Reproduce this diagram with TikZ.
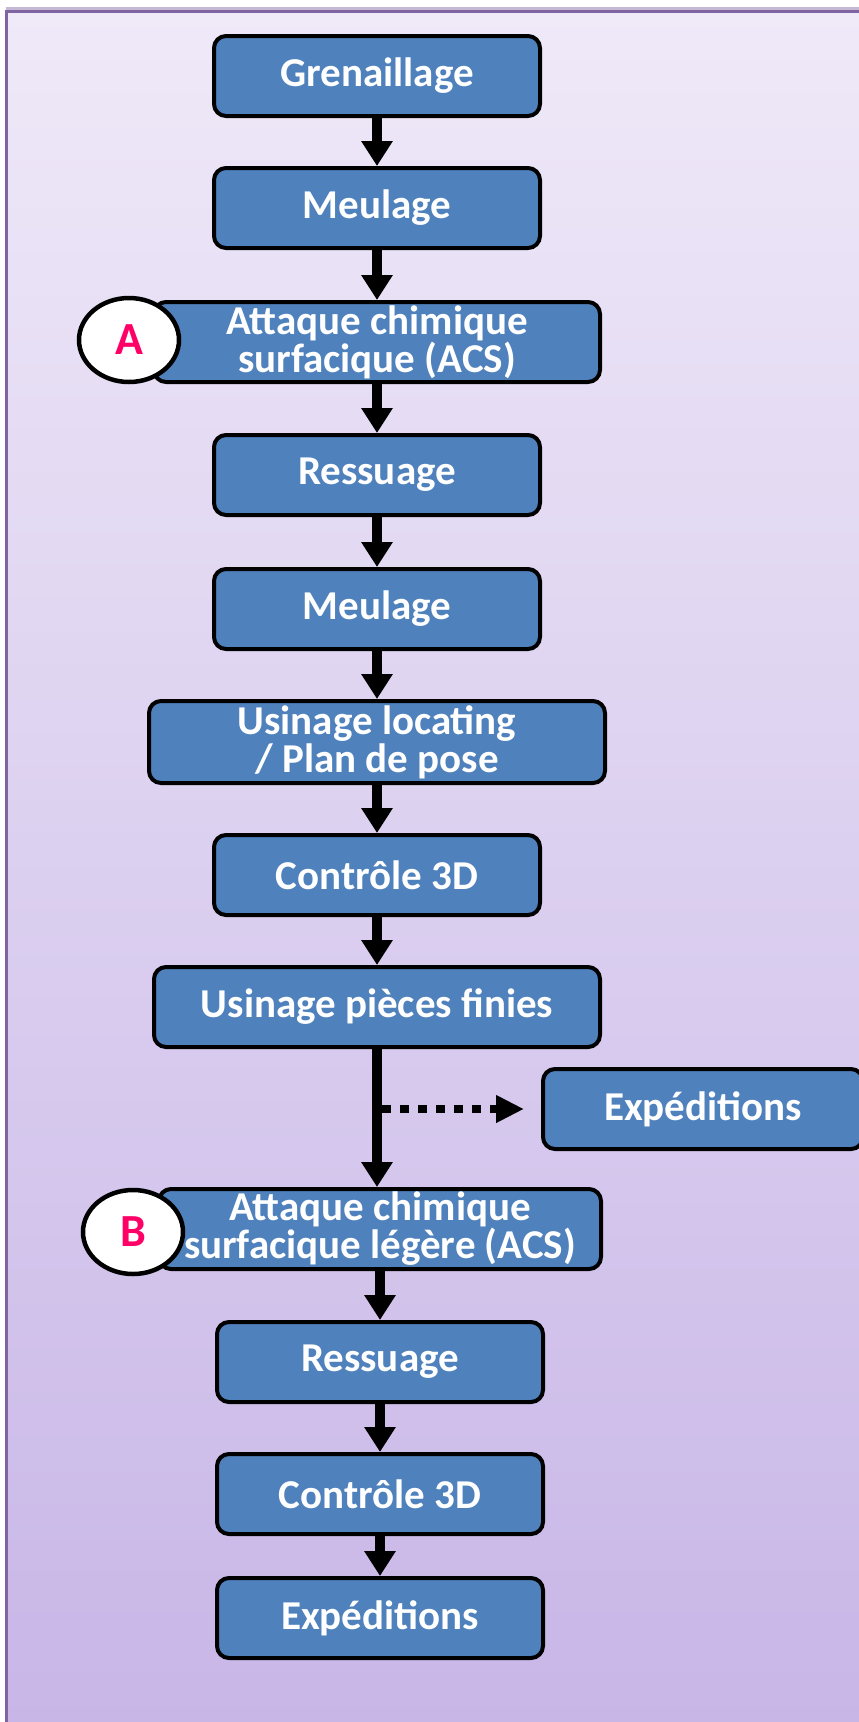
\documentclass[tikz,border=0pt]{standalone}
\usepackage{fontspec}
\setmainfont{Carlito}
\usetikzlibrary{arrows.meta,shapes.geometric}
\definecolor{boxblue}{RGB}{79,129,189}
\definecolor{bgtop}{RGB}{239,233,248}
\definecolor{bgbot}{RGB}{200,182,231}
\definecolor{framepurple}{RGB}{128,100,162}
\definecolor{markpink}{RGB}{255,0,102}

\tikzset{
  stepbox/.style={draw=black, line width=4pt, fill=boxblue, rounded corners=12pt,
    text=white, font=\fontsize{41}{38}\selectfont\bfseries, align=center,
    minimum width=326pt, minimum height=80pt, inner sep=0pt},
  widebox/.style={stepbox, minimum width=446pt},
  marker/.style={ellipse, draw=black, line width=4.5pt, fill=white, text=markpink,
    font=\fontsize{46}{46}\selectfont\bfseries, minimum width=100pt, minimum height=84pt, inner sep=0pt},
  flow/.style={line width=10pt, -{Triangle[width=30pt,length=25pt]}},
  dotflow/.style={line width=8pt, dash pattern=on 9pt off 9pt, -{Triangle[width=26pt,length=28pt]}}
}

\begin{document}
\begin{tikzpicture}[x=1pt,y=-1pt]
  \clip (0,0) rectangle (859,1722);
  % background and frame
  \fill[white] (0,0) rectangle (859,1722);
  \shade[top color=bgtop, bottom color=bgbot] (6,10) rectangle (859,1722);
  \fill[framepurple!45!white] (6,7) rectangle (859,10);
  \draw[framepurple, line width=3pt] (6,11.5) -- (859,11.5);
  \draw[framepurple, line width=3pt] (6.5,10) -- (6.5,1722);

  % process steps
  \node[stepbox] (gren) at (377,76) {Grenaillage};
  \node[stepbox] (meul1) at (377,208) {Meulage};
  \node[widebox] (acs) at (377,342) {Attaque chimique\\surfacique (ACS)};
  \node[marker] (markA) at (129,340) {A};
  \node[stepbox] (ress1) at (377,475) {Ressuage};
  \node[stepbox] (meul2) at (377,609) {Meulage};
  \node[stepbox, minimum width=456pt, minimum height=82pt] (usloc) at (377,742) {Usinage locating\\/ Plan de pose};
  \node[stepbox] (ctrl1) at (377,875) {Contrôle 3D};
  \node[widebox] (uspf) at (377,1007) {Usinage pièces finies};
  \node[stepbox, minimum width=320pt] (expside) at (703,1109) {Expéditions};
  \node[widebox, minimum width=442pt] (acsl) at (380,1229) {Attaque chimique\\surfacique légère (ACS)};
  \node[marker] (markB) at (133,1232) {B};
  \node[stepbox] (ress2) at (380,1362) {Ressuage};
  \node[stepbox] (ctrl2) at (380,1494) {Contrôle 3D};
  \node[stepbox] (exp2) at (380,1618) {Expéditions};

  % connectors
  \draw[flow] (gren) -- (meul1);
  \draw[flow] (meul1) -- (acs);
  \draw[flow] (acs) -- (ress1);
  \draw[flow] (ress1) -- (meul2);
  \draw[flow] (meul2) -- (usloc);
  \draw[flow] (usloc) -- (ctrl1);
  \draw[flow] (ctrl1) -- (uspf);
  \draw[flow] (uspf.south) -- (uspf.south |- acsl.north);
  \coordinate (split) at (uspf.south |- expside.west);
  \draw[dotflow, shorten <=5pt, shorten >=17pt] (split) -- (expside.west);
  \draw[flow] (acsl) -- (ress2);
  \draw[flow] (ress2) -- (ctrl2);
  \draw[flow] (ctrl2) -- (exp2);
\end{tikzpicture}
\end{document}
